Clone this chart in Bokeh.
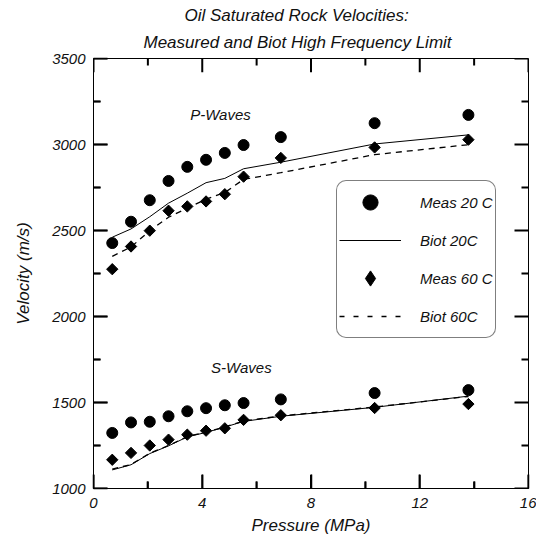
from bokeh.plotting import figure
from bokeh.models import (FixedTicker, Legend, LegendItem, Label, Range1d,
                          ColumnDataSource, Title)
from bokeh.embed import file_html
from bokeh.resources import INLINE

# ---- data ----
pressure = [0.69, 1.38, 2.07, 2.76, 3.45, 4.14, 4.83, 5.52, 6.89, 10.34, 13.79]
vp_meas_20 = [2427, 2551, 2676, 2788, 2870, 2911, 2951, 2997, 3043, 3124, 3172]
vp_biot_20 = [2461, 2509, 2580, 2659, 2717, 2778, 2803, 2859, 2897, 3003, 3056]
vp_meas_60 = [2275, 2407, 2499, 2615, 2640, 2669, 2711, 2813, 2922, 2983, 3028]
vp_biot_60 = [2350, 2404, 2499, 2577, 2630, 2682, 2721, 2797, 2836, 2941, 2999]
vs_meas_20 = [1323, 1384, 1388, 1420, 1449, 1467, 1484, 1497, 1518, 1555, 1572]
vs_biot_20 = [1108, 1138, 1203, 1248, 1300, 1326, 1357, 1390, 1420, 1472, 1537]
vs_meas_60 = [1167, 1207, 1250, 1284, 1313, 1336, 1350, 1399, 1426, 1468, 1491]
vs_biot_60 = [1112, 1140, 1205, 1250, 1302, 1328, 1358, 1392, 1422, 1474, 1535]

x_ticks = [0, 4, 8, 12, 16]
x_minor = [2, 6, 10, 14]
y_ticks = [1000, 1500, 2000, 2500, 3000, 3500]
y_minor = [1250, 1750, 2250, 2750, 3250]

title_lines = ["Oil Saturated Rock Velocities:",
               "Measured and Biot High Frequency Limit"]
x_label = "Pressure (MPa)"
y_label = "Velocity (m/s)"
legend_labels = ["Meas 20 C", "Biot 20C", "Meas 60 C", "Biot 60C"]
wave_labels = ["P-Waves", "S-Waves"]
wave_label_pos = [(4.67, 3172), (5.44, 1703)]

FONT = "Liberation Sans"
INK = "#111111"

W, H = 536, 537
BL, BR, BT, BB = 93, 8, 58, 45
x0, x1 = x_ticks[0], x_ticks[-1]
y0, y1 = y_ticks[0], y_ticks[-1]

p = figure(width=W, height=H, output_backend="svg", toolbar_location=None,
           x_range=Range1d(x0, x1), y_range=Range1d(y0, y1),
           min_border_left=BL, min_border_right=BR, min_border_top=BT,
           min_border_bottom=BB)
p.grid.visible = False
p.outline_line_color = "black"

for ax, t in ((p.xaxis[0], FixedTicker(ticks=x_ticks, minor_ticks=x_minor)),
              (p.yaxis[0], FixedTicker(ticks=y_ticks, minor_ticks=y_minor))):
    ax.ticker = t
    ax.axis_line_color = "black"
    ax.major_tick_line_color = "black"
    ax.minor_tick_line_color = "black"
    ax.major_tick_line_width = 1.5
    ax.minor_tick_line_width = 1.5
    ax.major_tick_in = 14
    ax.major_tick_out = 0
    ax.minor_tick_in = 7
    ax.minor_tick_out = 0
    ax.major_label_text_font = FONT
    ax.major_label_text_font_style = "italic"
    ax.major_label_text_font_size = "15px"
    ax.major_label_text_color = INK
    ax.axis_label_text_font = FONT
    ax.axis_label_text_font_style = "italic"
    ax.axis_label_text_font_size = "17px"
    ax.axis_label_text_color = INK

xa = p.xaxis[0]
ya = p.yaxis[0]
xa.axis_label = x_label
ya.axis_label = y_label
xa.major_label_standoff = 9
xa.axis_label_standoff = 5
ya.major_label_standoff = 8
ya.axis_label_standoff = 16

src = ColumnDataSource(dict(x=pressure,
                            vp_m20=vp_meas_20, vp_b20=vp_biot_20,
                            vp_m60=vp_meas_60, vp_b60=vp_biot_60,
                            vs_m20=vs_meas_20, vs_b20=vs_biot_20,
                            vs_m60=vs_meas_60, vs_b60=vs_biot_60))

DASH = "6 5"
for col in ("vp_b20", "vs_b20"):
    p.line("x", col, source=src, line_color="black", line_width=1)
for col in ("vp_b60", "vs_b60"):
    p.line("x", col, source=src, line_color="black", line_width=1.3,
           line_dash=DASH)
for col in ("vp_m20", "vs_m20"):
    p.scatter("x", col, source=src, marker="circle", size=11,
              fill_color="black", line_color="black")
for col in ("vp_m60", "vs_m60"):
    p.scatter("x", col, source=src, marker="square", size=8,
              angle=0.7853981634, fill_color="black", line_color="black")

# inward tick marks on all four sides, drawn as segments (pixel lengths
# converted to data units of each axis)
MAJ_PX, MIN_PX = 14, 7
dx_per_px = (x1 - x0) / (W - BL - BR)
dy_per_px = (y1 - y0) / (H - BT - BB)

def side_ticks(vals, px):
    L = px * dx_per_px
    n = len(vals)
    return ColumnDataSource(dict(xa=[x0] * n + [x1] * n,
                                 xb=[x0 + L] * n + [x1 - L] * n,
                                 ya=list(vals) * 2, yb=list(vals) * 2))

def end_ticks(vals, px):
    L = px * dy_per_px
    n = len(vals)
    return ColumnDataSource(dict(xa=list(vals) * 2, xb=list(vals) * 2,
                                 ya=[y0] * n + [y1] * n,
                                 yb=[y0 + L] * n + [y1 - L] * n))

for s in (side_ticks(y_ticks, MAJ_PX), side_ticks(y_minor, MIN_PX),
          end_ticks(x_ticks, MAJ_PX), end_ticks(x_minor, MIN_PX)):
    p.segment("xa", "ya", "xb", "yb", source=s, line_color="#000000",
              line_width=2)

# legend proxies (legend glyphs only, nothing drawn in the plot)
nan = float("nan")
proxy = ColumnDataSource(dict(x=[nan], y=[nan]))
lg_c = p.scatter("x", "y", source=proxy, marker="circle", size=16,
                 fill_color="black", line_color="black")
lg_l = p.line("x", "y", source=proxy, line_color="black", line_width=1)
lg_d = p.scatter("x", "y", source=proxy, marker="diamond", size=16,
                 fill_color="black", line_color="black")
lg_dl = p.line("x", "y", source=proxy, line_color="black", line_width=1.3,
               line_dash="5 9")

GH = 38
legend = Legend(items=[LegendItem(label=legend_labels[0], renderers=[lg_c]),
                       LegendItem(label=legend_labels[1], renderers=[lg_l]),
                       LegendItem(label=legend_labels[2], renderers=[lg_d]),
                       LegendItem(label=legend_labels[3], renderers=[lg_dl])],
                location=(243, 150), margin=0, padding=2,
                glyph_width=62, glyph_height=GH, label_height=GH,
                spacing=31 - GH, label_standoff=19,
                label_text_font=FONT, label_text_font_style="italic",
                label_text_font_size="15px", label_text_color=INK,
                border_line_color="black", border_line_width=1,
                background_fill_color="white", background_fill_alpha=1)
if "border_radius" in legend.properties():
    legend.border_radius = 10
p.add_layout(legend, "center")

for txt, (lx, ly) in zip(wave_labels, wave_label_pos):
    p.add_layout(Label(x=lx, y=ly, text=txt, text_font=FONT,
                       text_font_style="italic", text_font_size="15px",
                       text_color=INK, text_align="center",
                       text_baseline="middle"))

# two-line title (second line added first: it sits next to the frame)
p.add_layout(Title(text=title_lines[1], align="left", offset=50,
                   text_font=FONT, text_font_style="italic",
                   text_font_size="17px", text_color=INK, standoff=13),
             "above")
p.add_layout(Title(text=title_lines[0], align="left", offset=91,
                   text_font=FONT, text_font_style="italic",
                   text_font_size="17px", text_color=INK, standoff=0),
             "above")

open("out.html", "w").write(file_html(p, INLINE))
